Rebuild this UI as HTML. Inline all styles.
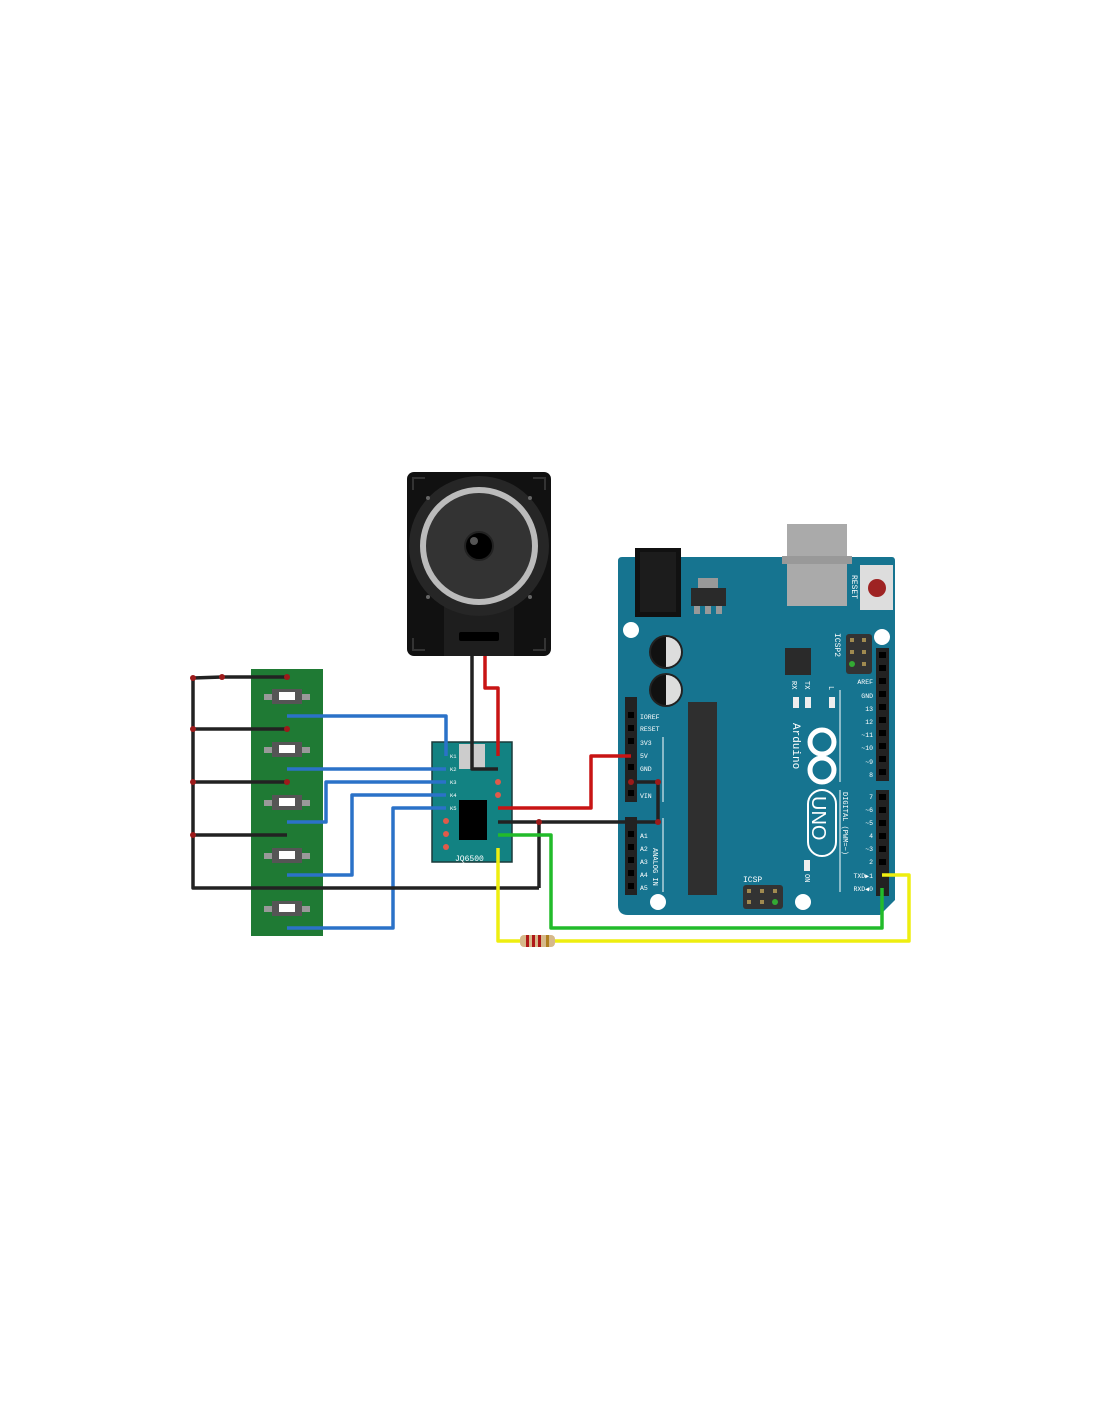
<!DOCTYPE html>
<html><head><meta charset="utf-8"><style>html,body{margin:0;padding:0;background:#fff}svg{display:block}</style></head>
<body>
<svg width="1100" height="1422" viewBox="0 0 1100 1422" xmlns="http://www.w3.org/2000/svg" font-family="Liberation Mono, monospace">
<defs><pattern id="pins" width="13" height="13.1" patternUnits="userSpaceOnUse"><rect width="13" height="13.1" fill="#222"/><rect x="3.5" y="3.5" width="6" height="6" fill="#000"/></pattern></defs>
<rect width="1100" height="1422" fill="#fff"/>
<!-- Speaker -->
<rect x="407" y="472" width="144" height="184" rx="7" fill="#111"/>
<path d="M413 490 v-12 h12 M545 490 v-12 h-12 M413 638 v12 h12 M545 638 v12 h-12" stroke="#333" stroke-width="2" fill="none"/>
<rect x="444" y="600" width="70" height="56" fill="#1e1e1e"/>
<circle cx="479" cy="546" r="70" fill="#262626"/>
<circle cx="479" cy="546" r="56" fill="#333" stroke="#bbb" stroke-width="6"/>
<circle cx="479" cy="546" r="14" fill="#000" stroke="#222" stroke-width="2"/>
<circle cx="474" cy="541" r="4" fill="#555"/>
<rect x="459" y="632" width="40" height="9" rx="2" fill="#000"/>
<circle cx="428" cy="498" r="2" fill="#666"/><circle cx="530" cy="498" r="2" fill="#666"/>
<circle cx="428" cy="597" r="2" fill="#666"/><circle cx="530" cy="597" r="2" fill="#666"/>
<!-- Arduino board -->
<path d="M622 557 H892 Q895 557 895 561 V900 L880 915 H628 Q618 915 618 905 V561 Q618 557 622 557 Z" fill="#167490"/>
<rect x="635" y="548" width="46" height="69" fill="#111"/>
<rect x="640" y="552" width="36" height="60" fill="#1c1c1c"/>
<rect x="698" y="578" width="20" height="10" fill="#999"/>
<rect x="691" y="588" width="35" height="18" fill="#2a2a2a"/>
<rect x="694" y="606" width="6" height="8" fill="#999"/><rect x="705" y="606" width="6" height="8" fill="#999"/><rect x="716" y="606" width="6" height="8" fill="#999"/>
<rect x="787" y="524" width="60" height="82" fill="#aaa"/>
<rect x="782" y="556" width="70" height="8" fill="#999"/>
<rect x="860" y="565" width="33" height="45" fill="#ddd"/>
<circle cx="877" cy="588" r="9" fill="#9e2323"/>
<text x="852" y="575" font-size="8" fill="#fff" transform="rotate(90 852 575)">RESET</text>
<circle cx="631" cy="630" r="8" fill="#fff"/><circle cx="882" cy="637" r="8" fill="#fff"/>
<circle cx="658" cy="902" r="8" fill="#fff"/><circle cx="803" cy="902" r="8" fill="#fff"/>
<circle cx="666" cy="652" r="17" fill="#222"/><path d="M666 637 a15 15 0 0 1 0 30 z" fill="#ddd"/><path d="M666 637 a15 15 0 0 0 0 30 z" fill="#111"/>
<circle cx="666" cy="690" r="17" fill="#222"/><path d="M666 675 a15 15 0 0 1 0 30 z" fill="#ddd"/><path d="M666 675 a15 15 0 0 0 0 30 z" fill="#111"/>
<rect x="688" y="702" width="29" height="193" fill="#2f2f2f"/>
<rect x="785" y="648" width="26" height="27" fill="#2a2a2a"/>
<rect x="846" y="634" width="26" height="40" rx="3" fill="#333"/>
<g fill="#a08a50"><rect x="850" y="638" width="4" height="4"/><rect x="862" y="638" width="4" height="4"/><rect x="850" y="650" width="4" height="4"/><rect x="862" y="650" width="4" height="4"/><rect x="862" y="662" width="4" height="4"/></g>
<circle cx="852" cy="664" r="3" fill="#3a3"/>
<text x="835" y="633" font-size="8" fill="#fff" transform="rotate(90 835 633)">ICSP2</text>
<rect x="743" y="885" width="40" height="24" rx="3" fill="#333"/>
<g fill="#a08a50"><rect x="747" y="889" width="4" height="4"/><rect x="760" y="889" width="4" height="4"/><rect x="773" y="889" width="4" height="4"/><rect x="747" y="900" width="4" height="4"/><rect x="760" y="900" width="4" height="4"/></g><circle cx="775" cy="902" r="3" fill="#3a3"/>
<text x="743" y="882" font-size="8" fill="#fff">ICSP</text>
<rect x="793" y="697" width="6" height="11" fill="#eee"/><rect x="805" y="697" width="6" height="11" fill="#eee"/><rect x="829" y="697" width="6" height="11" fill="#eee"/><rect x="804" y="860" width="6" height="11" fill="#eee"/>
<text x="792" y="681" font-size="7" fill="#fff" transform="rotate(90 792 681)">RX</text>
<text x="805" y="681" font-size="7" fill="#fff" transform="rotate(90 805 681)">TX</text>
<text x="829" y="686" font-size="7" fill="#fff" transform="rotate(90 829 686)">L</text>
<text x="805" y="874" font-size="7" fill="#fff" transform="rotate(90 805 874)">ON</text>
<text x="793" y="723" font-size="11" fill="#fff" transform="rotate(90 793 723)">Arduino</text>
<g fill="none" stroke="#fff" stroke-width="5"><circle cx="822" cy="742" r="12"/><circle cx="822" cy="770" r="12"/></g>
<rect x="808" y="790" width="28" height="66" rx="14" fill="none" stroke="#fff" stroke-width="2"/>
<text x="812" y="796" font-size="20" fill="#fff" transform="rotate(90 812 796)" font-family="Liberation Sans,sans-serif">UNO</text>
<text x="843" y="792" font-size="7" fill="#fff" transform="rotate(90 843 792)">DIGITAL (PWM=~)</text>
<text x="653" y="848" font-size="7" fill="#fff" transform="rotate(90 653 848)">ANALOG IN</text>
<path d="M663 737 V802 M663 818 V892 M840 690 V782 M840 790 V892" stroke="#fff" stroke-width="1"/>
<!-- headers -->
<rect x="625" y="697" width="12" height="105" fill="#222"/>
<rect x="625" y="817" width="12" height="78" fill="#222"/>
<rect x="876" y="648" width="13" height="133" fill="#222"/>
<rect x="876" y="790" width="13" height="106" fill="#222"/>
<g fill="#000">
<rect x="628" y="712" width="6" height="6"/><rect x="628" y="725" width="6" height="6"/><rect x="628" y="738" width="6" height="6"/><rect x="628" y="764" width="6" height="6"/><rect x="628" y="790" width="6" height="6"/>
<rect x="628" y="831" width="6" height="6"/><rect x="628" y="844" width="6" height="6"/><rect x="628" y="857" width="6" height="6"/><rect x="628" y="870" width="6" height="6"/><rect x="628" y="883" width="6" height="6"/>
<rect x="879" y="652" width="7" height="6"/><rect x="879" y="665" width="7" height="6"/><rect x="879" y="678" width="7" height="6"/><rect x="879" y="691" width="7" height="6"/><rect x="879" y="704" width="7" height="6"/><rect x="879" y="717" width="7" height="6"/><rect x="879" y="730" width="7" height="6"/><rect x="879" y="743" width="7" height="6"/><rect x="879" y="756" width="7" height="6"/><rect x="879" y="769" width="7" height="6"/>
<rect x="879" y="794" width="7" height="6"/><rect x="879" y="807" width="7" height="6"/><rect x="879" y="820" width="7" height="6"/><rect x="879" y="833" width="7" height="6"/><rect x="879" y="846" width="7" height="6"/><rect x="879" y="859" width="7" height="6"/>
</g>
<g font-size="6.5" fill="#fff">
<text x="640" y="719">IOREF</text><text x="640" y="731">RESET</text><text x="640" y="745">3V3</text><text x="640" y="758">5V</text><text x="640" y="771">GND</text><text x="640" y="798">VIN</text>
<text x="640" y="838">A1</text><text x="640" y="851">A2</text><text x="640" y="864">A3</text><text x="640" y="877">A4</text><text x="640" y="890">A5</text>
<g text-anchor="end"><text x="873" y="684">AREF</text><text x="873" y="698">GND</text><text x="873" y="711">13</text><text x="873" y="724">12</text><text x="873" y="737">~11</text><text x="873" y="750">~10</text><text x="873" y="764">~9</text><text x="873" y="777">8</text>
<text x="873" y="799">7</text><text x="873" y="812">~6</text><text x="873" y="825">~5</text><text x="873" y="838">4</text><text x="873" y="851">~3</text><text x="873" y="864">2</text><text x="873" y="878">TXD▶1</text><text x="873" y="891">RXD◀0</text></g>
</g>
<!-- button board -->
<rect x="251" y="669" width="72" height="267" fill="#1f7a34"/>
<g>
<g id="b"><rect x="264" y="694" width="46" height="6" fill="#999"/><rect x="272" y="689" width="30" height="15" fill="#555"/><rect x="279" y="692" width="16" height="8" fill="#fff"/></g>
<use href="#b" y="53"/><use href="#b" y="106"/><use href="#b" y="159"/><use href="#b" y="212"/>
</g>
<!-- JQ6500 -->
<rect x="432" y="742" width="80" height="120" fill="#128282" stroke="#1a3a3a" stroke-width="1.5"/>
<rect x="459" y="744" width="26" height="25" fill="#ccc"/>
<rect x="459" y="800" width="28" height="40" fill="#000"/>
<g font-size="5.5" fill="#fff"><text x="450" y="758">K1</text><text x="450" y="771">K2</text><text x="450" y="784">K3</text><text x="450" y="797">K4</text><text x="450" y="810">K5</text></g>
<text x="455" y="861" font-size="8" fill="#fff">JQ6500</text>
<g fill="#e05a4a"><circle cx="446" cy="821" r="3"/><circle cx="446" cy="834" r="3"/><circle cx="446" cy="847" r="3"/><circle cx="498" cy="782" r="3"/><circle cx="498" cy="795" r="3"/></g>
<!-- wires -->
<g fill="none" stroke-width="3.5" stroke-linejoin="round">
<g stroke="#2b72c8"><path d="M287 716 H446 V756"/><path d="M287 769 H446"/><path d="M287 822 H326 V782 H446"/><path d="M287 875 H352 V795 H446"/><path d="M287 928 H393 V808 H446"/></g>
<g stroke="#222"><path d="M287 677 H222 L193 678 V888 H539"/><path d="M193 729 H287"/><path d="M193 782 H287"/><path d="M193 835 H287"/><path d="M472 656 V769 H498"/><path d="M498 822 H658 V782 H631"/><path d="M539 822 V888"/></g>
<g stroke="#c81414"><path d="M485 656 V688 H498 V756"/><path d="M498 808 H591 V756 H631"/></g>
<path d="M498 835 H551 V928 H882 V888" stroke="#22bb2a"/>
<path d="M498 848 V941 H909 V875 H882" stroke="#eeee10"/>
</g>
<!-- resistor -->
<rect x="520" y="935" width="35" height="12" rx="4" fill="#d6b98a"/>
<g fill="#b01818"><rect x="526" y="935" width="3" height="12"/><rect x="532" y="935" width="3" height="12"/><rect x="538" y="935" width="3" height="12"/></g><rect x="546" y="935" width="3" height="12" fill="#b08020"/>
<g fill="#9c1a1a"><circle cx="193" cy="678" r="3"/><circle cx="222" cy="677" r="3"/><circle cx="287" cy="677" r="3"/><circle cx="193" cy="729" r="3"/><circle cx="287" cy="729" r="3"/><circle cx="193" cy="782" r="3"/><circle cx="287" cy="782" r="3"/><circle cx="193" cy="835" r="3"/><circle cx="631" cy="782" r="3"/><circle cx="658" cy="782" r="3"/><circle cx="658" cy="822" r="3"/><circle cx="539" cy="822" r="3"/></g>
</svg>
</body></html>
